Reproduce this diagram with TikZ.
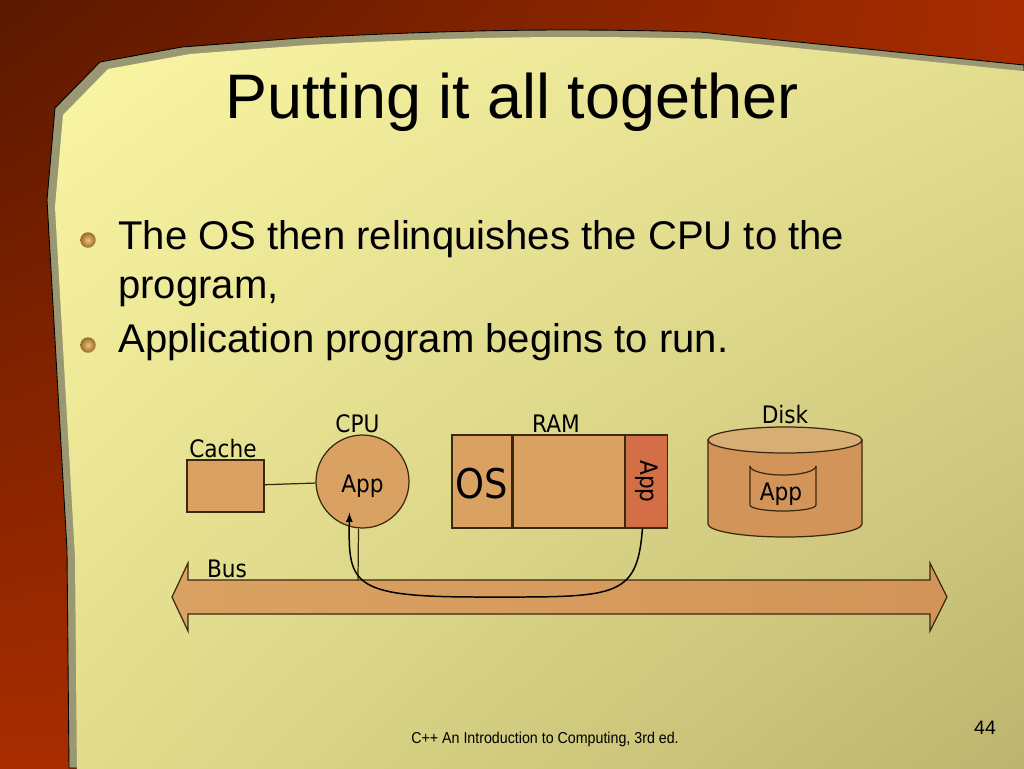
\documentclass[tikz,border=0pt]{standalone}
\usepackage{fontspec}
\setmainfont{Liberation Sans}
\newfontfamily\diagfont{DejaVu Sans Condensed}
\usepackage{xcolor}
\usetikzlibrary{arrows,shapes,positioning,calc,shadings}

\definecolor{framedark}{HTML}{5A1800}
\definecolor{framelight}{HTML}{A82C00}
\definecolor{panelband}{HTML}{9A9872}
\definecolor{edge}{HTML}{3A2810}
\definecolor{parttan}{HTML}{DAA262}
\definecolor{appred}{HTML}{D46E46}
\definecolor{diskbody}{HTML}{D29458}
\definecolor{disktop}{HTML}{D7AF74}
\definecolor{goldin}{HTML}{EAC478}
\definecolor{goldout}{HTML}{9A6A26}
\definecolor{panelul}{RGB}{250,246,164}
\definecolor{panelur}{RGB}{228,222,144}
\definecolor{panelll}{RGB}{226,221,140}
\definecolor{panellr}{RGB}{188,180,110}

% outline of the yellow slide panel
\newcommand{\panelpath}{(69,768) -- (67,550) -- (47,200) -- (55,108) -- (100,62) -- (182,47) -- (300,38) .. controls (450,30) and (560,28) .. (700,32) -- (1024,65) -- (1024,768) -- cycle}

\begin{document}
\begin{tikzpicture}[
    x=0.02cm, y=-0.02cm,
    part/.style={draw=edge, line width=0.7pt, fill=parttan, inner sep=0pt},
    lbl/.style={font=\diagfont\fontsize{13.7}{16}\selectfont, inner sep=0pt, anchor=base},
    bullet/.style={circle, shading=radial, inner color=goldin, outer color=goldout, minimum size=0.31cm, inner sep=0pt},
    item/.style={font=\fontsize{22.8}{27}\selectfont, inner sep=0pt, anchor=base west},
    flow/.style={-latex, line width=0.85pt}
]
    \useasboundingbox (0,0) rectangle (1024,768);

    % background and panel
    \shade[upper left=framedark, upper right=framelight, lower left=framelight, lower right=framelight] (0,0) rectangle (1024,768);
    \draw[fill=panelband, line width=0.5pt] \panelpath;
    \shade[shift={(8,7)}, upper left=panelul, upper right=panelur, lower left=panelll, lower right=panellr] \panelpath;

    % title and bullets
    \node[font=\fontsize{35.8}{40}\selectfont, inner sep=0pt, anchor=base] (title) at (512,118) {Putting it all together};
    \node[bullet] (b1) at (88,240) {};
    \node[bullet] (b2) at (88,345) {};
    \node[item] (item1) at (118,249) {The OS then relinquishes the CPU to the};
    \node[item] (item1b) at (118,298) {program,};
    \node[item] (item2) at (118,352) {Application program begins to run.};

    % bus
    \draw[edge, line width=0.7pt, left color=parttan, right color=diskbody] (172,597) -- (188,563) -- (188,580) -- (930,580) -- (930,563) -- (947,597) -- (930,631) -- (930,614) -- (188,614) -- (188,631) -- cycle;
    \coordinate (bustop) at (358,580);
    \node[lbl] (buslbl) at (227,577) {Bus};

    % cache and cpu
    \node[part, minimum width=1.54cm, minimum height=1.04cm] (cache) at (225.5,486) {};
    \node[part, circle, minimum size=1.86cm] (cpu) at (362.5,481.5) {};
    \node[lbl] (cachelbl) at (223,457) {Cache};
    \node[lbl] (cpulbl) at (357.5,432) {CPU};
    \node[lbl] (cpuapp) at (362.5,492) {App};
    \draw[edge, line width=0.7pt] (cache) -- (cpu);

    % ram
    \node[part, minimum width=1.2cm, minimum height=1.86cm] (os) at (482,481.5) {};
    \node[part, right=0pt of os, minimum width=2.22cm, minimum height=1.86cm] (ram) {};
    \node[part, fill=appred, right=0pt of ram, minimum width=0.84cm, minimum height=1.86cm] (ramapp) {\diagfont\fontsize{13.7}{16}\selectfont\rotatebox{-90}{App}};
    \node[lbl, font=\diagfont\fontsize{23.3}{26}\selectfont] (oslbl) at (482,498) {OS};
    \node[lbl] (ramlbl) at (556,432) {RAM};

    % disk
    \draw[edge, line width=0.7pt, fill=diskbody] (708,440) -- (708,524) arc[start angle=180, end angle=360, x radius=1.54cm, y radius=0.26cm] -- (862,440) -- cycle;
    \draw[edge, line width=0.7pt, fill=disktop] (785,440) ellipse[x radius=1.54cm, y radius=0.26cm];
    \draw[edge, line width=0.7pt] (750,466) arc[start angle=180, end angle=360, x radius=0.66cm, y radius=0.18cm];
    \draw[edge, line width=0.7pt] (750,466) -- (750,505) arc[start angle=180, end angle=360, x radius=0.66cm, y radius=0.12cm] -- (816,466);
    \node[lbl] (disklbl) at (785,423) {Disk};
    \node[lbl] (diskapp) at (781,500) {App};

    % connectors
    \draw[edge, line width=0.7pt] ($(cpu.south)+(-4,0)$) -- (bustop);
    \draw[flow] ($(ramapp.south)+(-4,0)$) .. controls (637,600) and (615,597) .. (480,597) .. controls (352,597) and (348,585) .. ($(cpu)+(-13,31)$);

    % footer
    \node[font=\fontsize{9}{11}\selectfont, inner sep=0pt] (footer) at (545,739) {\scalebox{0.9}[1]{C++ An Introduction to Computing, 3rd ed.}};
    \node[font=\fontsize{11.1}{13}\selectfont, inner sep=0pt] (pagenum) at (985,728) {44};
\end{tikzpicture}
\end{document}
